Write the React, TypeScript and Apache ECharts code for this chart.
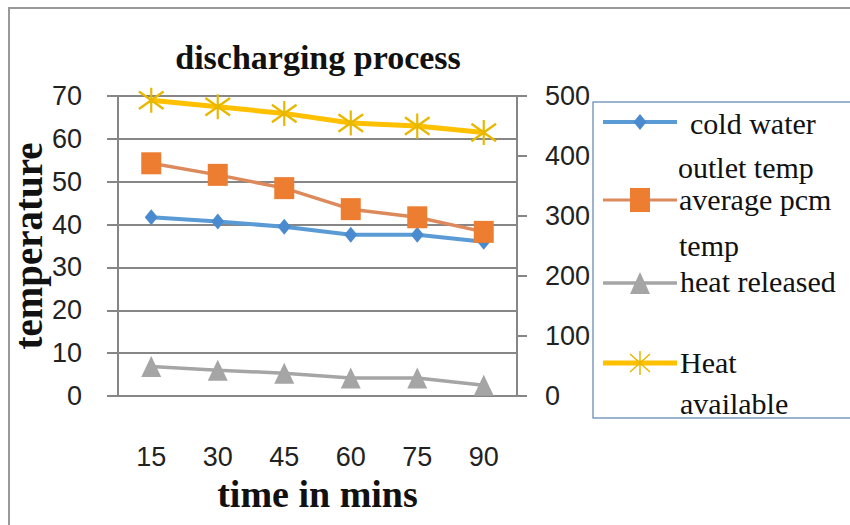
import React, { useEffect, useRef } from "react";
import * as echarts from "echarts";

const categories = ["15", "30", "45", "60", "75", "90"];
const coldWaterOutlet = [41.7, 40.7, 39.5, 37.6, 37.6, 36.0];
const averagePcm = [54.3, 51.6, 48.5, 43.6, 41.7, 38.3];
const heatReleased = [49, 43, 38, 30, 30, 18];
const heatAvailable = [493, 482, 471, 455, 450, 439];

const seriesNames = ["cold water outlet temp", "average pcm temp", "heat released", "Heat available"];
const legendLines = [[" cold water", "outlet temp"], ["average pcm", "temp"], ["heat released"], ["Heat", "available"]];

const BLUE = "#5b9bd5";
const BLUE_M = "#4a8bcf";
const ORANGE = "#ed7d31";
const ORANGE_L = "#dc8a5c";
const GRAY = "#a5a5a5";
const YELLOW = "#ffc000";
const GRID = "#868686";

const ASTERISK =
  "path://M9.2,0 L10.8,0 L10.8,20 L9.2,20 Z M0.5,3.8 L1.5,2.2 L19.5,16.2 L18.5,17.8 Z M18.5,2.2 L19.5,3.8 L1.5,17.8 L0.5,16.2 Z";

export default function App() {
  const ref = useRef<HTMLDivElement>(null);
  useEffect(() => {
    if (!ref.current) return;
    const chart = echarts.init(ref.current, null, { renderer: "svg" });
    const axisFont = { fontFamily: "Liberation Sans", fontSize: 27, color: "#222" };
    const serifBold = { fontFamily: "Liberation Serif", fontWeight: "bold" as const, color: "#111" };

    const iconY = [122, 200, 283, 363];
    const colors = [BLUE, ORANGE_L, GRAY, YELLOW];
    const widths = [4, 3, 3.5, 5];
    const textPos = [
      [[690, 123], [678, 167]],
      [[679, 199], [679, 245]],
      [[680, 281]],
      [[680, 362], [680, 403]],
    ];
    const legendEls: any[] = [
      {
        type: "rect",
        z: 10,
        shape: { x: 593, y: 102, width: 270, height: 316 },
        style: { fill: "#fff", stroke: "#7d9cc0", lineWidth: 1.5 },
      },
    ];
    iconY.forEach((y, i) => {
      legendEls.push({
        type: "line",
        z: 11,
        shape: { x1: 603, y1: y, x2: 677, y2: y },
        style: { stroke: colors[i], lineWidth: widths[i] },
      });
      legendLines[i].forEach((t, j) => {
        legendEls.push({
          type: "text",
          z: 11,
          x: textPos[i][j][0],
          y: textPos[i][j][1],
          style: {
            text: t.trim(),
            fontFamily: "Liberation Serif",
            fontSize: 30,
            fill: "#111",
            verticalAlign: "middle",
            align: "left",
          },
        });
      });
    });
    legendEls.push({
      type: "polygon",
      z: 12,
      shape: { points: [[640, 114], [646.5, 122], [640, 130], [633.5, 122]] },
      style: { fill: BLUE_M },
    });
    legendEls.push({
      type: "rect",
      z: 12,
      shape: { x: 630, y: 188, width: 20, height: 24 },
      style: { fill: ORANGE },
    });
    legendEls.push({
      type: "polygon",
      z: 12,
      shape: { points: [[640, 272], [650, 294], [630, 294]] },
      style: { fill: GRAY },
    });
    [[[640, 351], [640, 375]], [[630, 354], [650, 372]], [[650, 354], [630, 372]]].forEach((p) => {
      legendEls.push({
        type: "line",
        z: 12,
        shape: { x1: p[0][0], y1: p[0][1], x2: p[1][0], y2: p[1][1] },
        style: { stroke: "#e8b800", lineWidth: 1.5 },
      });
    });

    chart.setOption({
      animation: false,
      backgroundColor: "#fff",
      title: {
        text: "discharging process",
        left: 313,
        top: 32,
        textAlign: "center",
        textStyle: { ...serifBold, fontSize: 34, lineHeight: 40 },
      },
      grid: { left: 118, right: 333, top: 96, bottom: 129, containLabel: false },
      xAxis: {
        type: "category",
        data: categories,
        boundaryGap: true,
        axisLine: { lineStyle: { color: GRID, width: 2 } },
        axisTick: { show: false },
        axisLabel: { ...axisFont, margin: 47 },
        name: "time in mins",
        nameLocation: "middle",
        nameGap: 72,
        nameTextStyle: { ...serifBold, fontSize: 38 },
      },
      yAxis: [
        {
          type: "value",
          min: 0,
          max: 70,
          interval: 10,
          position: "left",
          axisLine: { show: true, lineStyle: { color: GRID, width: 2 } },
          axisTick: { show: true, length: 11, lineStyle: { color: GRID, width: 2 } },
          splitLine: { show: true, lineStyle: { color: GRID, width: 2 } },
          axisLabel: { ...axisFont, margin: 36 },
          name: "temperature",
          nameLocation: "middle",
          nameRotate: 90,
          nameGap: 61,
          nameTextStyle: { ...serifBold, fontSize: 39 },
        },
        {
          type: "value",
          min: 0,
          max: 500,
          interval: 100,
          position: "right",
          axisLine: { show: true, lineStyle: { color: GRID, width: 2 } },
          axisTick: { show: true, length: 10, lineStyle: { color: GRID, width: 2 } },
          splitLine: { show: false },
          axisLabel: { ...axisFont, margin: 28 },
        },
      ],
      series: [
        {
          name: seriesNames[0],
          type: "line",
          yAxisIndex: 0,
          data: coldWaterOutlet,
          symbol: "diamond",
          symbolSize: [13, 16],
          lineStyle: { color: BLUE, width: 4 },
          itemStyle: { color: BLUE_M },
        },
        {
          name: seriesNames[1],
          type: "line",
          yAxisIndex: 0,
          data: averagePcm,
          symbol: "rect",
          symbolSize: [20, 22],
          lineStyle: { color: ORANGE_L, width: 3.5 },
          itemStyle: { color: ORANGE },
        },
        {
          name: seriesNames[2],
          type: "line",
          yAxisIndex: 1,
          data: heatReleased,
          symbol: "triangle",
          symbolSize: [20, 21],
          lineStyle: { color: GRAY, width: 3.5 },
          itemStyle: { color: GRAY },
        },
        {
          name: seriesNames[3],
          type: "line",
          yAxisIndex: 1,
          data: heatAvailable,
          symbol: ASTERISK,
          symbolSize: [26, 25],
          lineStyle: { color: YELLOW, width: 5 },
          itemStyle: { color: "#e8b800" },
        },
      ],
      graphic: [
        {
          type: "rect",
          z: -1,
          shape: { x: 9, y: 8, width: 900, height: 600 },
          style: { fill: "none", stroke: "#999", lineWidth: 2 },
        },
        ...legendEls,
      ],
    });
    return () => chart.dispose();
  }, []);
  return <div ref={ref} style={{ position: "absolute", left: 0, top: 0, width: 850, height: 525 }} />;
}
